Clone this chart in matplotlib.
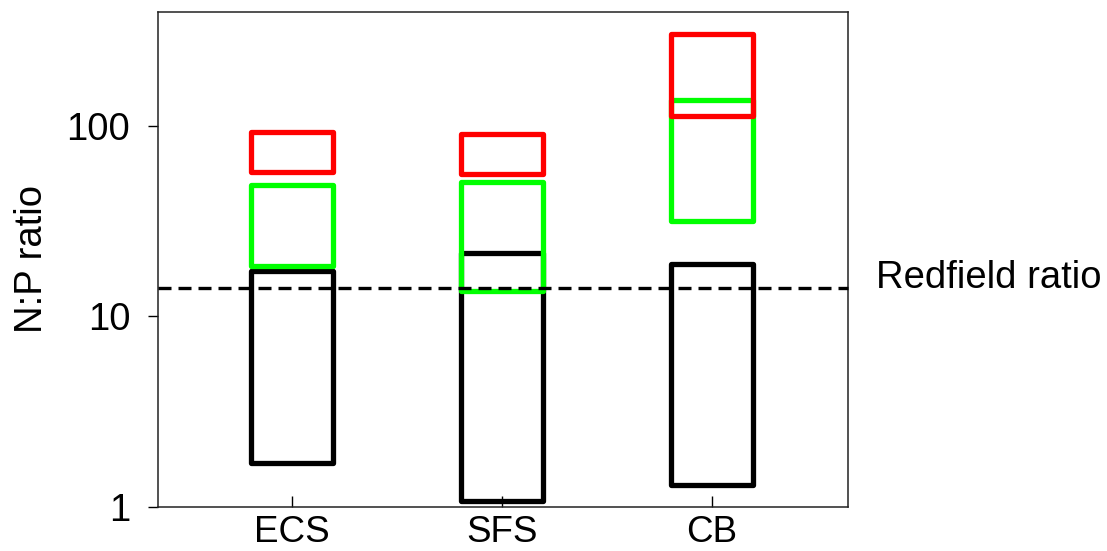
import matplotlib.pyplot as plt
from matplotlib.ticker import FixedLocator, NullLocator

plt.rcParams['font.family'] = ['Liberation Sans', 'DejaVu Sans']

sites = ['ECS', 'SFS', 'CB']

# N:P ranges (low, high) for each group of boxes
black_low = [1.71, 1.08, 1.30]
black_high = [17.2, 21.5, 18.7]
green_low = [18.4, 13.6, 31.6]
green_high = [49.1, 50.9, 136]
red_low = [56.9, 56.0, 112]
red_high = [92.2, 90.8, 301]

redfield = 14.1

fig = plt.figure(figsize=(11.07, 5.51), dpi=100)
ax = fig.add_axes([0.1427, 0.0799, 0.6233, 0.8983])

x = [1, 2, 3]
for low, high, col in [(black_low, black_high, 'black'),
                       (green_low, green_high, '#00ff00'),
                       (red_low, red_high, '#ff0000')]:
    heights = [h - l for l, h in zip(low, high)]
    bars = ax.bar(x, heights, bottom=low, width=0.39, fill=False,
                  edgecolor=col, linewidth=3.8)
    for b in bars:
        b.set_joinstyle('round')

ax.axhline(redfield, color='black', linewidth=2.4, dashes=(3.9, 2.1),
           clip_on=False, zorder=5)
ax.text(3.78, redfield, 'Redfield ratio', fontsize=27.5, va='baseline',
        ha='left')

ax.set_yscale('log')
ax.set_ylim(1, 10 ** 2.596)
ax.set_xlim(0.362, 3.648)
ax.yaxis.set_major_locator(FixedLocator([1, 10, 100]))
ax.yaxis.set_minor_locator(NullLocator())
ax.set_yticklabels(['1', '10', '100'])
ax.set_xticks(x)
ax.set_xticklabels(sites)

ax.tick_params(axis='y', direction='out', length=7, width=1,
               labelsize=27.5, pad=13)
ax.tick_params(axis='x', direction='in', length=8, width=1,
               labelsize=26.5, pad=6)
ax.set_ylabel('N:P ratio', fontsize=27.5, labelpad=12)

for s in ax.spines.values():
    s.set_linewidth(1.1)
    s.set_color('#222222')

fig.savefig('out.png', dpi=100)
